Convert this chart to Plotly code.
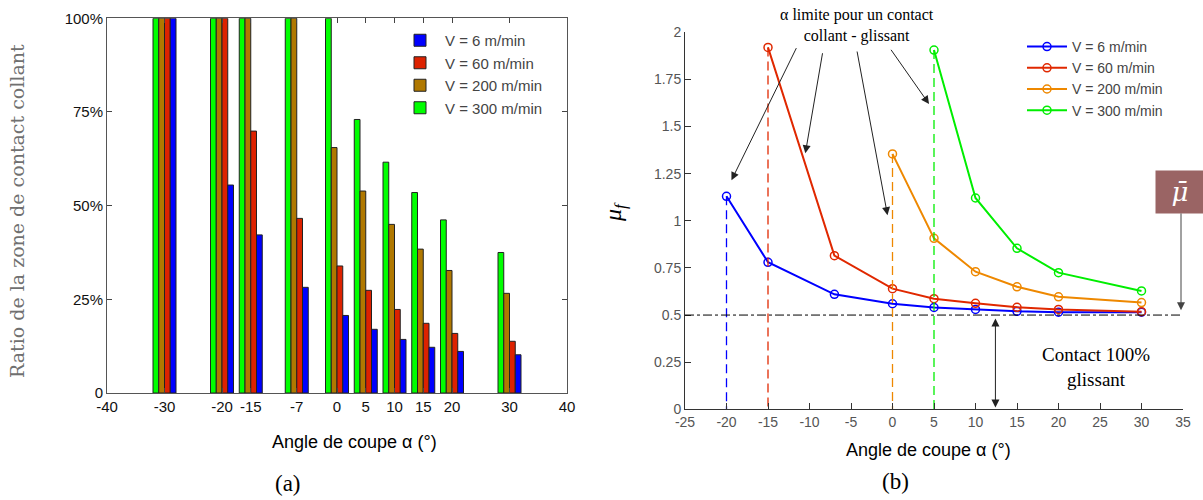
import plotly.graph_objects as go

# ---------------- data (a) : bar chart ----------------
angles_a = [-30, -20, -15, -7, 0, 5, 10, 15, 20, 30]
ratio_v6 = [100, 55.5, 42.2, 28.2, 20.7, 17.0, 14.3, 12.2, 11.1, 10.2]
ratio_v60 = [100, 100, 69.9, 46.6, 33.9, 27.4, 22.3, 18.6, 15.9, 13.8]
ratio_v200 = [100, 100, 100, 100, 65.5, 53.9, 45.0, 38.4, 32.7, 26.6]
ratio_v300 = [100, 100, 100, 100, 100, 73.0, 61.6, 53.5, 46.2, 37.5]
xticks_a = [-40, -30, -20, -15, -7, 0, 5, 10, 15, 20, 30, 40]
yticks_a = [0, 25, 50, 75, 100]
yticktext_a = ["0", "25%", "50%", "75%", "100%"]

# ---------------- data (b) : friction curves ----------------
mu_x_v6 = [-20, -15, -7, 0, 5, 10, 15, 20, 30]
mu_v6 = [1.13, 0.78, 0.61, 0.56, 0.54, 0.53, 0.52, 0.515, 0.515]
mu_x_v60 = [-15, -7, 0, 5, 10, 15, 20, 30]
mu_v60 = [1.92, 0.815, 0.64, 0.587, 0.562, 0.541, 0.53, 0.518]
mu_x_v200 = [0, 5, 10, 15, 20, 30]
mu_v200 = [1.355, 0.907, 0.73, 0.65, 0.597, 0.566]
mu_x_v300 = [5, 10, 15, 20, 30]
mu_v300 = [1.906, 1.121, 0.854, 0.725, 0.628]
mu_bar = 0.5
xticks_b = [-25, -20, -15, -10, -5, 0, 5, 10, 15, 20, 25, 30, 35]
yticks_b = [0, 0.25, 0.5, 0.75, 1, 1.25, 1.5, 1.75, 2]
yticktext_b = ["0", "0.25", "0.5", "0.75", "1", "1.25", "1.5", "1.75", "2"]

labels = ["V = 6 m/min", "V = 60 m/min", "V = 200 m/min", "V = 300 m/min"]
bar_colors = ["#0000ff", "#dd2200", "#b07800", "#00ff00"]
line_colors = ["#0000ff", "#e02800", "#ee8800", "#00ee00"]

W, H = 1203, 500
def px(x):
    return x / W
def py(y):
    return 1 - y / H

fig = go.Figure()

# bars: drawn left-to-right green, brown, red, blue
bar_series = [ratio_v6, ratio_v60, ratio_v200, ratio_v300]
for i in [3, 2, 1, 0]:
    fig.add_trace(go.Bar(
        x=angles_a, y=bar_series[i], name=labels[i],
        marker=dict(color=bar_colors[i], line=dict(color="#222222", width=1)),
        xaxis="x", yaxis="y", legend="legend",
    ))

# curves
curve_x = [mu_x_v6, mu_x_v60, mu_x_v200, mu_x_v300]
curve_y = [mu_v6, mu_v60, mu_v200, mu_v300]
for i in range(4):
    fig.add_trace(go.Scatter(
        x=curve_x[i], y=curve_y[i], name=labels[i], mode="lines+markers",
        line=dict(color=line_colors[i], width=2),
        marker=dict(symbol="circle-open", size=8, color=line_colors[i], line=dict(width=1.5)),
        xaxis="x2", yaxis="y2", legend="legend2",
    ))
    # dashed limit line from first point down to 0
    fig.add_trace(go.Scatter(
        x=[curve_x[i][0], curve_x[i][0]], y=[curve_y[i][0], 0], mode="lines",
        line=dict(color=line_colors[i], width=1.3, dash="9px,5px"),
        showlegend=False, hoverinfo="skip", xaxis="x2", yaxis="y2",
    ))

tickfont_a = dict(family="Liberation Sans, Arial", size=15, color="#111111")
tickfont_b = dict(family="Liberation Sans, Arial", size=14, color="#555555")

fig.update_layout(
    width=W, height=H,
    margin=dict(l=0, r=0, t=0, b=0, autoexpand=False),
    paper_bgcolor="white", plot_bgcolor="white",
    barmode="group", bargap=0.2, bargroupgap=0,
    showlegend=True,
    xaxis=dict(domain=[px(107), px(567)], range=[-40, 40], tickvals=xticks_a,
               ticktext=[str(v) for v in xticks_a],
               ticks="inside", ticklen=5, showgrid=False, zeroline=False,
               showline=True, linecolor="#555555", mirror="allticks",
               tickfont=tickfont_a, anchor="y", automargin=False),
    yaxis=dict(domain=[py(393), py(18.3)], range=[0, 100], tickvals=yticks_a,
               ticktext=yticktext_a, ticks="inside", ticklen=5, showgrid=False,
               zeroline=False, showline=True, linecolor="#555555", mirror="allticks",
               tickfont=tickfont_a, anchor="x", automargin=False),
    xaxis2=dict(domain=[px(685), px(1183)], range=[-25, 35], tickvals=xticks_b,
                ticktext=[str(v) for v in xticks_b],
                ticks="inside", ticklen=6, showgrid=False, zeroline=False,
                showline=True, linecolor="#333333", tickcolor="#333333",
                tickfont=tickfont_b, anchor="y2", automargin=False),
    yaxis2=dict(domain=[py(409.3), py(32.3)], range=[0, 2], tickvals=yticks_b,
                ticktext=yticktext_b, ticks="inside", ticklen=6, showgrid=False,
                zeroline=False, showline=True, linecolor="#333333", tickcolor="#333333",
                tickfont=tickfont_b, anchor="x2", automargin=False),
    legend=dict(x=px(395), y=py(24), xanchor="left", yanchor="top",
                traceorder="reversed", bgcolor="rgba(0,0,0,0)",
                font=dict(family="Liberation Sans, Arial", size=15, color="#444444"),
                itemwidth=40, tracegroupgap=0),
    legend2=dict(x=px(1022), y=py(31), xanchor="left", yanchor="top",
                 bgcolor="rgba(0,0,0,0)",
                 font=dict(family="Liberation Sans, Arial", size=14, color="#444444"),
                 itemwidth=40, tracegroupgap=0),
)

# mu_bar reference line (dash-dot)
fig.add_shape(type="line", xref="x2 domain", yref="y2", x0=0, x1=1, y0=mu_bar, y1=mu_bar,
              line=dict(color="black", width=1, dash="dashdot"))

serif = "Liberation Serif, Times New Roman"
C = dict(xanchor="center", yanchor="middle")
ann = []
# axis titles
ann.append(dict(x=px(354), y=py(442), xref="paper", yref="paper", showarrow=False, **C,
                text="Angle de coupe α (°)", font=dict(family="Liberation Sans, Arial", size=18, color="black")))
ann.append(dict(x=px(928), y=py(450), xref="paper", yref="paper", showarrow=False, **C,
                text="Angle de coupe α (°)", font=dict(family="Liberation Sans, Arial", size=18, color="black")))
ann.append(dict(x=px(17), y=py(211), xref="paper", yref="paper", showarrow=False, textangle=-90, **C,
                text="Ratio de la zone de contact collant", font=dict(family="DejaVu Serif", size=19, color="#707070")))
ann.append(dict(x=px(615), y=py(212), xref="paper", yref="paper", showarrow=False, textangle=-90, **C,
                text="<i>μ<sub>f</sub></i>", font=dict(family=serif, size=24, color="black")))
# panel labels
ann.append(dict(x=px(288), y=py(483), xref="paper", yref="paper", showarrow=False, **C,
                text="(a)", font=dict(family=serif, size=23, color="black")))
ann.append(dict(x=px(895), y=py(481), xref="paper", yref="paper", showarrow=False, **C,
                text="(b)", font=dict(family=serif, size=23, color="black")))
# limit text
ann.append(dict(x=px(857), y=py(25), xref="paper", yref="paper", showarrow=False, **C,
                text="α limite pour un contact<br>collant - glissant",
                font=dict(family=serif, size=16, color="black")))
# arrows from text
arrows = [((-19.4, 1.215), (-11.5, 1.924)),
          ((-10.5, 1.358), (-8.4, 1.897)),
          ((-0.6, 1.03), (-4.3, 1.906)),
          ((4.4, 1.62), (-0.3, 1.915))]
for (tx, ty), (ax_, ay_) in arrows:
    ann.append(dict(x=tx, y=ty, ax=ax_, ay=ay_, xref="x2", yref="y2", axref="x2", ayref="y2",
                    text="", showarrow=True, arrowhead=2, arrowsize=1.6, arrowwidth=1,
                    arrowcolor="#222222"))
# mu bar box
ann.append(dict(x=px(1179.5), y=py(191.7), xref="paper", yref="paper", showarrow=False, **C,
                text="<i>μ̄</i>", width=46, height=40, bgcolor="#9a6464",
                font=dict(family="DejaVu Serif", size=26, color="white")))
ann.append(dict(x=34.76, y=mu_bar + 0.025, ax=34.76, ay=1.047, xref="x2", yref="y2",
                axref="x2", ayref="y2", text="", showarrow=True, arrowhead=2,
                arrowsize=1.6, arrowwidth=1, arrowcolor="#444444"))
# double arrow
ann.append(dict(x=12.4, y=0.01, ax=12.4, ay=mu_bar - 0.01, xref="x2", yref="y2",
                axref="x2", ayref="y2", text="", showarrow=True, arrowhead=2,
                startarrowhead=2, arrowside="end+start", arrowsize=1.6, startarrowsize=1.6,
                arrowwidth=1, arrowcolor="#222222"))
ann.append(dict(x=24.5, y=0.224, xref="x2", yref="y2", showarrow=False, **C,
                text="Contact 100%<br>glissant", font=dict(family=serif, size=19, color="black")))

fig.update_layout(annotations=ann)
fig.write_html("out.html", config={"displayModeBar": False},
               post_script="document.body.style.margin='0px';")
